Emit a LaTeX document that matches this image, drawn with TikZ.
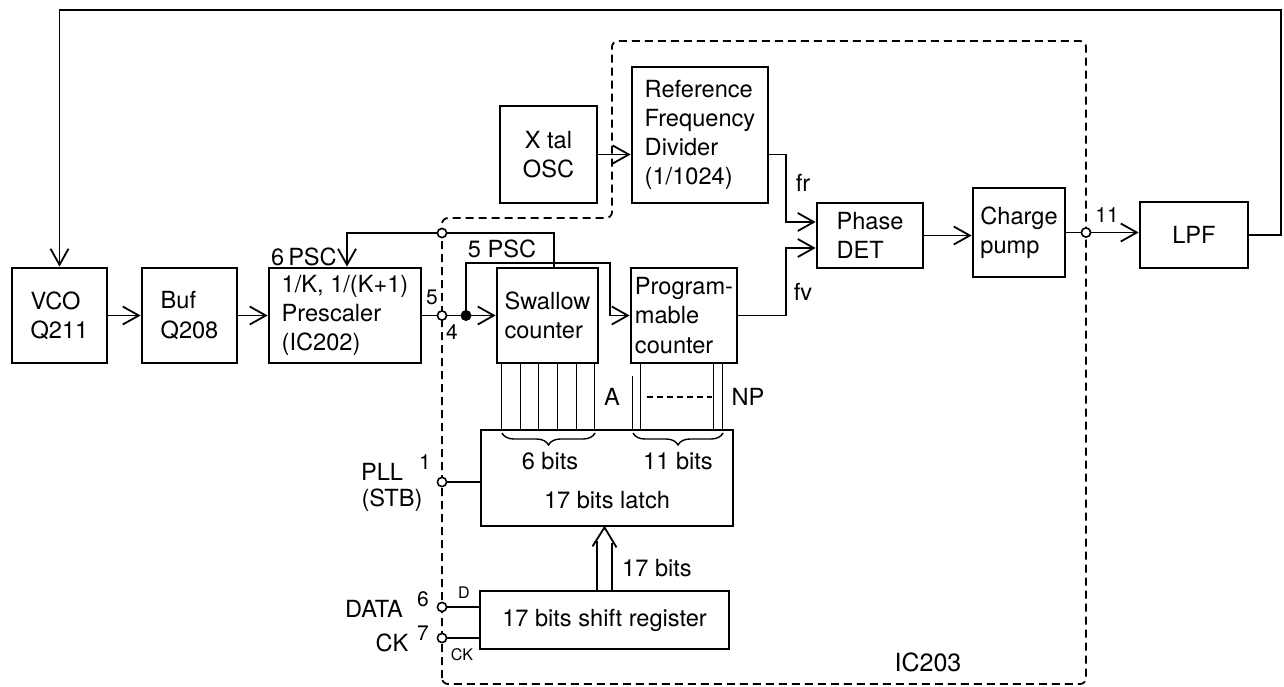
\documentclass[tikz,border=0pt]{standalone}
\usepackage{fontspec}
\setmainfont{TeX Gyre Heros}
\usetikzlibrary{arrows.meta,calc,decorations.pathreplacing}
\begin{document}
\begin{tikzpicture}[x=0.5pt,y=-0.5pt,
  font=\fontsize{11.8}{14.6}\selectfont,
  box/.style={draw,line width=1.4pt,inner sep=0pt,align=left},
  wire/.style={line width=0.9pt},
  arr/.style={wire,-{Straight Barb[length=8pt,width=9pt,line width=0.9pt]}},
  pin/.style={circle,draw,fill=white,line width=0.8pt,minimum size=4.6pt,inner sep=0pt},
  jdot/.style={circle,fill=black,minimum size=5.5pt,inner sep=0pt},
  lbl/.style={inner sep=0pt},
  pinnum/.style={inner sep=0pt,font=\fontsize{10.5}{12}\selectfont},
  tiny/.style={inner sep=0pt,font=\fontsize{8}{10}\selectfont},
  bit/.style={line width=0.7pt},
  icline/.style={line width=0.9pt,dash pattern=on 4pt off 2.5pt},
  bracestyle/.style={line width=0.7pt,decorate,decoration={brace,mirror,amplitude=6pt}},
]
\useasboundingbox (0,0) rectangle (1284,686);

% IC203 boundary
\draw[icline,rounded corners=3pt] (442,684) -- (442,218) -- (612,218) -- (612,41) -- (1086,41) -- (1086,684) -- cycle;

% boxes
\node[box,minimum width=47.5pt,minimum height=47.5pt] (vco) at (59.5,315.5) {VCO\\Q211};
\node[box,minimum width=47.5pt,minimum height=47.5pt] (buf) at (189.5,315.5) {Buf\\Q208};
\node[box,minimum width=76pt,minimum height=47.5pt] (presc) at (345,315.5) {1/K, 1/(K+1)\\Prescaler\\(IC202)};
\node[box,align=center,minimum width=48.5pt,minimum height=48.5pt] (xtal) at (548.5,154.5) {X tal\\OSC};
\node[box,minimum width=68pt,minimum height=68pt] (ref) at (700,135) {Reference\\Frequency\\Divider\\(1/1024)};
\node[box,minimum width=53pt,minimum height=32.5pt] (phase) at (870,235.5) {Phase\\DET};
\node[box,minimum width=46pt,minimum height=44.5pt] (charge) at (1019,232.5) {Charge\\pump};
\node[box,minimum width=54pt,minimum height=33pt] (lpf) at (1194,235) {LPF};
\node[box,minimum width=50.5pt,minimum height=47.5pt] (swallow) at (547.5,315.5) {Swallow\\counter};
\node[box,minimum width=53pt,minimum height=47.5pt] (prog) at (684,315.5) {Program-\\mable\\counter};
\node[box,minimum width=126pt,minimum height=48pt] (latch) at (607,478) {};
\node[box,minimum width=124.5pt,minimum height=29pt] (shift) at (604.5,620) {17 bits shift register};

% coordinates
\coordinate (cpin6) at (442,233);
\coordinate (cpin4) at (442,315.5);
\coordinate (cdot) at (466,315.5);
\coordinate (cpin11) at (1086,232.5);
\coordinate (cpin1) at (442,482);
\coordinate (cpinD) at (442,607);
\coordinate (cpinCK) at (442,638);
\coordinate (fbR) at (1281,10);
\coordinate (psc5) at (610,263);

% feedback loop
\draw[arr] (lpf.east) -| (fbR) -| (vco.north);

% main chain
\draw[arr] (vco.east) -- (buf.west);
\draw[arr] (buf.east) -- (presc.west);
\draw[wire] (presc.east) -- (cpin4) -- (cdot);
\draw[arr] (cdot) -- (swallow.west);
\draw[arr] (cpin6) -| ($(presc.north)+(2,0)$);
\draw[wire] (cpin6) -| ($(swallow.north)+(6.5,0)$);
\draw[arr] (cdot) |- (psc5) |- (prog.west);

\draw[arr] (xtal.east) -- (xtal.east -| ref.west);
\draw[arr] (ref.east |- xtal.east) -| ($(phase.west)+(-30,-13.5)$) -- ($(phase.west)+(0,-13.5)$);
\draw[arr] (prog.east) -| ($(phase.west)+(-30,12.5)$) -- ($(phase.west)+(0,12.5)$);
\draw[arr] (phase.east) -- (phase.east -| charge.west);
\draw[wire] (charge.east) -- (cpin11);
\draw[arr] (cpin11) -- (cpin11 -| lpf.west);

% bit lines
\foreach \o in {6,25,43,62,81,99}
  \draw[bit] ($(swallow.south west)+(\o,0)$) -- ($(latch.north west)+(\o+16,0)$);
\draw[bit] ($(prog.south west)+(3,12)$) -- ($(latch.north west)+(153,0)$);
\draw[bit] ($(prog.south west)+(11,0)$) -- ($(latch.north west)+(161,0)$);
\draw[bit] ($(prog.south west)+(84,0)$) -- ($(latch.north west)+(234,0)$);
\draw[bit] ($(prog.south west)+(93,0)$) -- ($(latch.north west)+(243,0)$);
\draw[bit,dash pattern=on 3pt off 2pt] (647,397) -- (712,397);

% braces
\draw[bracestyle] (502,433) -- (595,433);
\draw[bracestyle] (633,433) -- (723,433);

% bus arrow
\coordinate (bt) at (shift.north |- latch.south);
\draw[wire] ($(shift.north)+(-7.5,0)$) -- ++(0,-49);
\draw[wire] ($(shift.north)+(7.5,0)$) -- ++(0,-47);
\draw[wire,line join=miter] ($(bt)+(-12,19)$) -- (bt) -- ($(bt)+(12,20)$);

% control inputs
\draw[wire] (cpin1) -- (cpin1 -| latch.west);
\draw[wire] (cpinD) -- (cpinD -| shift.west);
\draw[wire] (cpinCK) -- (cpinCK -| shift.west);

% pins
\node[pin] (pin6) at (cpin6) {};
\node[pin] (pin4) at (cpin4) {};
\node[pin] (pin11) at (cpin11) {};
\node[pin] (pin1) at (cpin1) {};
\node[pin] (pinD) at (cpinD) {};
\node[pin] (pinCK) at (cpinCK) {};
\node[jdot] (dot) at (cdot) {};

% labels
\node[lbl] (l6psc) at (304,257) {6\,PSC};
\node[lbl] (l5psc) at (502,249) {5 PSC};
\node[pinnum] (l5) at (432,297) {5};
\node[pinnum] (l4) at (452,332) {4};
\node[pinnum] (l11) at (1107,215) {11};
\node[lbl] (lfr) at (803,183) {fr};
\node[lbl] (lfv) at (803,292) {fv};
\node[lbl] (lA) at (612,397) {A};
\node[lbl] (lNP) at (748,397) {NP};
\node[lbl] (l6bits) at (550,461) {6 bits};
\node[lbl] (l11bits) at (678,461) {11 bits};
\node[lbl] (latchtxt) at (607,500) {17 bits latch};
\node[lbl] (l17bits) at (657,568) {17 bits};
\node[lbl] (lpll) at (382,472) {PLL};
\node[lbl] (lstb) at (392,500) {(STB)};
\node[pinnum] (l1) at (425,462) {1};
\node[lbl] (ldata) at (374,609) {DATA};
\node[pinnum] (lp6) at (423,599) {6};
\node[tiny] (lD) at (464,593) {D};
\node[lbl] (lck) at (392,643) {CK};
\node[pinnum] (lp7) at (423,633) {7};
\node[tiny] (lck2) at (462,655) {CK};
\node[lbl,font=\fontsize{12.5}{15}\selectfont] (lic) at (928,662) {IC203};
\end{tikzpicture}
\end{document}
